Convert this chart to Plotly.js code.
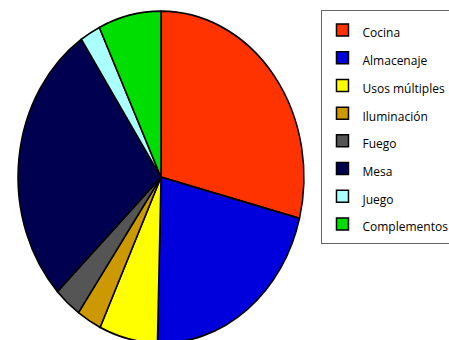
<!DOCTYPE html>
<html>
<head>
<meta charset="utf-8">
<script src="https://cdn.plot.ly/plotly-3.0.1.min.js"></script>
<style>html,body{margin:0;padding:0;background:#fff;}#chart{width:449px;height:340px;}</style>
</head>
<body>
<div id="chart"></div>
<script>
const categories = ["Cocina", "Almacenaje", "Usos múltiples", "Iluminación", "Fuego", "Mesa", "Juego", "Complementos"];
const shares = [29.0, 21.4, 6.6, 2.8, 3.1, 27.7, 2.3, 7.1];
const colors = ["#ff3300", "#0000dd", "#ffff00", "#cc9900", "#555555", "#000050", "#aaffff", "#00dd00"];

const labels = categories.map(c => '<span style="font-size:12px">' + c + '</span>');

const trace = {
  type: 'pie',
  labels: labels,
  values: shares,
  sort: false,
  direction: 'clockwise',
  rotation: 0,
  textinfo: 'none',
  hoverinfo: 'none',
  marker: { colors: colors, line: { color: '#000', width: 1.5 } },
  domain: { x: [0.0401, 0.677], y: [0.04, 0.918] }
};

const layout = {
  width: 449, height: 340,
  margin: { l: 0, r: 0, t: 0, b: 0, autoexpand: false },
  paper_bgcolor: '#fff',
  showlegend: true,
  legend: {
    x: 0.716, y: 0.97, xanchor: 'left', yanchor: 'top',
    bgcolor: '#fff', bordercolor: '#666', borderwidth: 1,
    font: { family: 'Open Sans, sans-serif', size: 19, color: '#000' },
    itemwidth: 30
  }
};

Plotly.newPlot('chart', [trace], layout, { staticPlot: true }).then(() => {
  const layer = document.querySelector('.pielayer');
  if (layer) {
    const cy = 177;
    const k = 166 / 143;
    layer.setAttribute('transform', 'translate(0,' + cy + ') scale(1,' + k + ') translate(0,' + (-cy) + ')');
  }
});
</script>
</body>
</html>
